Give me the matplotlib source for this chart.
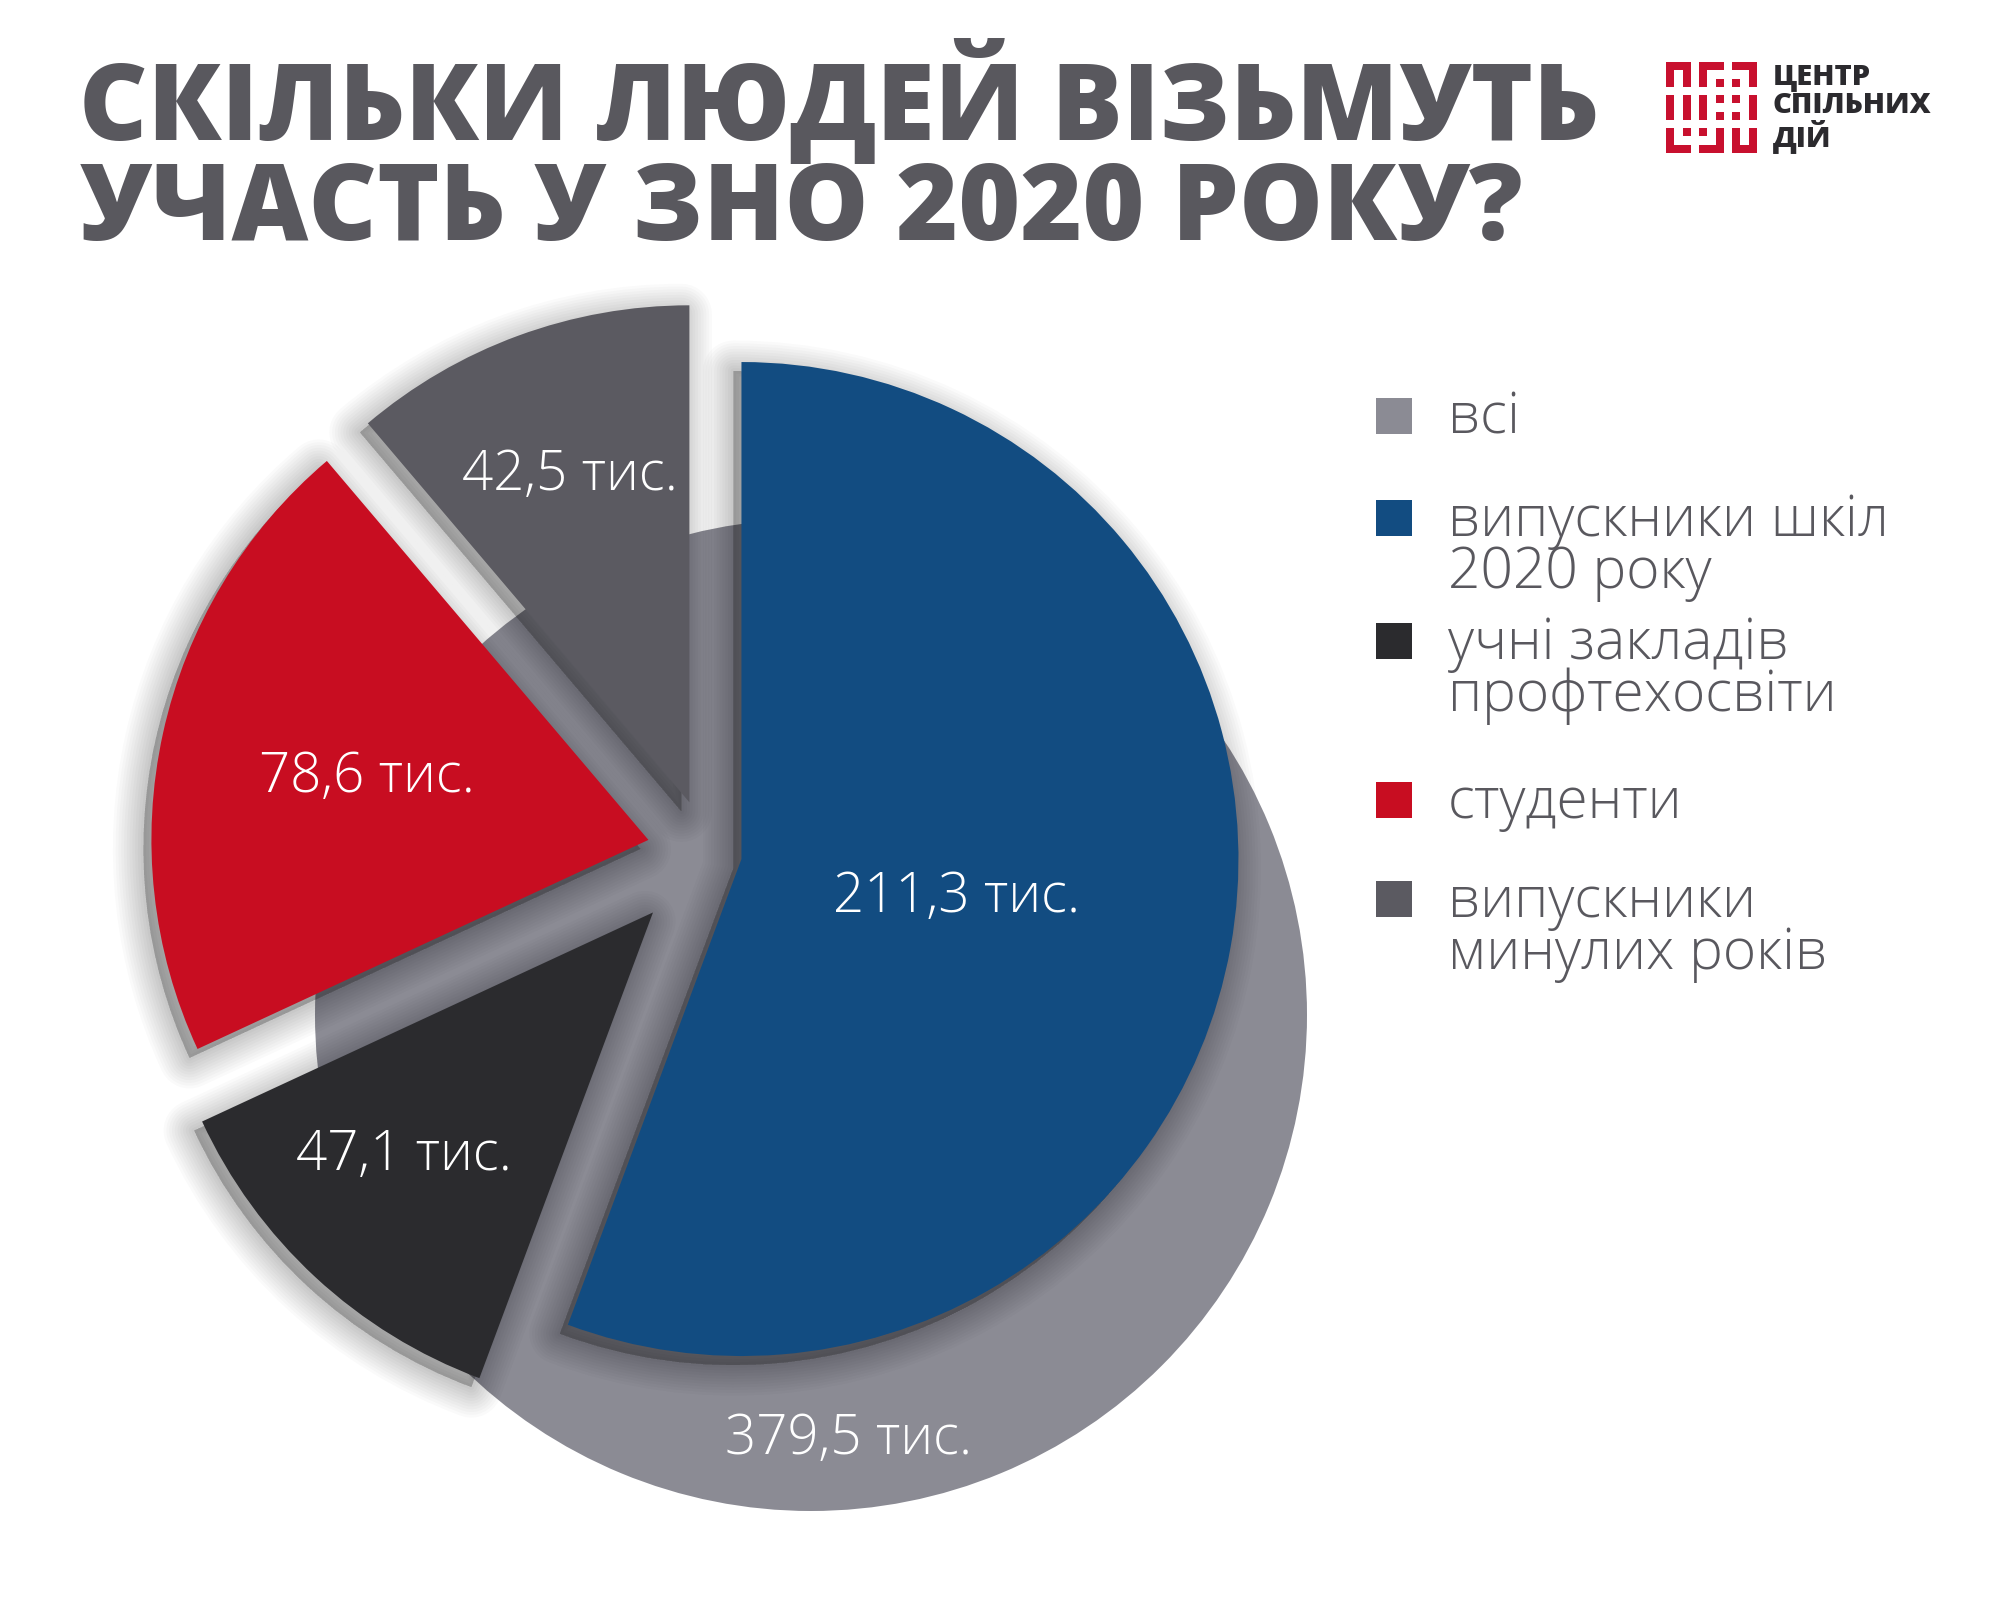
import numpy as np
import matplotlib.pyplot as plt
from matplotlib.patches import Wedge, Rectangle

W, H = 2000, 1600

title_lines = ["СКІЛЬКИ ЛЮДЕЙ ВІЗЬМУТЬ", "УЧАСТЬ У ЗНО 2020 РОКУ?"]
logo_lines = ["ЦЕНТР", "СПІЛЬНИХ", "ДІЙ"]

total_name = "всі"
total_value = 379.5
groups = ["випускники шкіл\n2020 року", "учні закладів\nпрофтехосвіти",
          "студенти", "випускники\nминулих років"]
values = [211.3, 47.1, 78.6, 42.5]

total_color = "#8b8b94"
colors = ["#124c81", "#2b2b2e", "#c80d21", "#5b5a61"]
text_gray = "#59585e"
logo_red = "#c8102e"

# logo mark on an 11x11 grid
logo_rows = [
    "XXX.XXX.XXX",
    "X.X.X.....X",
    "X.X.X.X.X.X",
    "...........",
    "X.X.X.X.X.X",
    "X.X.X.....X",
    "X.X.X.X.X.X",
    "...........",
    "X.X.X.X.X.X",
    "X.....X.X.X",
    "XXX.XXX.XXX",
]


def tys(v):
    return f"{v:.1f}".replace(".", ",") + " тис."


def fit(t, width, renderer):
    w = t.get_window_extent(renderer).width
    t.set_fontsize(t.get_fontsize() * width / w)
    return t.get_fontsize()


def flip(y):
    return H - y


fig = plt.figure(figsize=(20, 16), dpi=100, facecolor="white")
ax = fig.add_axes([0, 0, 1, 1])
renderer = fig.canvas.get_renderer()

# grey "всі" disc behind the slices
ax.pie([total_value], colors=[total_color], radius=496, center=(811, flip(1015)),
       startangle=90, wedgeprops=dict(linewidth=0, zorder=1))

# exploded slices
wedges, _ = ax.pie(values, colors=colors, radius=497, center=(708, flip(853)),
                   startangle=90, counterclock=False, explode=[34, 81, 61, 54],
                   wedgeprops=dict(linewidth=0, zorder=3))

# soft drop shadows (light from the top right), many faint layers
for w in wedges:
    cx, cy = w.center
    for lw in np.arange(44, -1, -4):
        ax.add_patch(Wedge((cx - 8, cy - 9), w.r, w.theta1, w.theta2,
                           facecolor="k", edgecolor="k", alpha=0.02,
                           linewidth=lw, joinstyle="round", zorder=2))

# value labels
label_r = [0.44, 0.70, 0.58, 0.70]
label_dtheta = [0, -3, 0, 0]
lab_font = dict(family="Open Sans", weight="light", color="white",
                ha="center", va="center", zorder=5)
texts = []
for w, v, f, dt in zip(wedges, values, label_r, label_dtheta):
    mid = np.deg2rad((w.theta1 + w.theta2) / 2 + dt)
    x = w.center[0] + f * w.r * np.cos(mid)
    y = w.center[1] + f * w.r * np.sin(mid)
    texts.append(ax.text(x, y, tys(v), fontsize=40, **lab_font))
a = np.deg2rad(-85)
texts.append(ax.text(811 + 0.86 * 496 * np.cos(a), flip(1015) + 0.86 * 496 * np.sin(a),
                     tys(total_value), fontsize=40, **lab_font))
fs = fit(texts[0], 246, renderer)
for t in texts:
    t.set_fontsize(fs)

# title
t1 = ax.text(79, flip(140), title_lines[0], family="Open Sans", weight="heavy",
             fontsize=70, color=text_gray, ha="left", va="baseline")
t2 = ax.text(79, flip(240), title_lines[1], family="Open Sans", weight="heavy",
             fontsize=70, color=text_gray, ha="left", va="baseline")
fs = fit(t1, 1520, renderer)
t2.set_fontsize(fs)

# legend
leg_names = [total_name] + groups
leg_colors = [total_color] + colors
leg_top = [398, 500, 623, 782, 881]
leg_texts = []
for name, c, top in zip(leg_names, leg_colors, leg_top):
    ax.add_patch(Rectangle((1376, flip(top + 36)), 36, 36, facecolor=c,
                           edgecolor="none"))
    for i, line in enumerate(name.split("\n")):
        leg_texts.append(ax.text(1448, flip(top + 36 + i * 52), line,
                                 family="Open Sans", weight="light", fontsize=34,
                                 color=text_gray, ha="left", va="baseline"))
fs = fit(leg_texts[1], 444, renderer)
for t in leg_texts:
    t.set_fontsize(fs)

# logo
unit = 91 / 11
for r, row in enumerate(logo_rows):
    for c, ch in enumerate(row):
        if ch == "X":
            ax.add_patch(Rectangle((1666 + c * unit, flip(62 + (r + 1) * unit)),
                                   unit, unit, facecolor=logo_red,
                                   edgecolor="none"))
ax.text(1773, flip(62), "\n".join(logo_lines), family="Open Sans", weight="heavy",
        fontsize=21, linespacing=0.98, color="#2b2a2e", ha="left", va="top")

ax.set_xlim(0, W)
ax.set_ylim(0, H)
ax.axis("off")

fig.savefig("out.png", dpi=100, facecolor="white")
